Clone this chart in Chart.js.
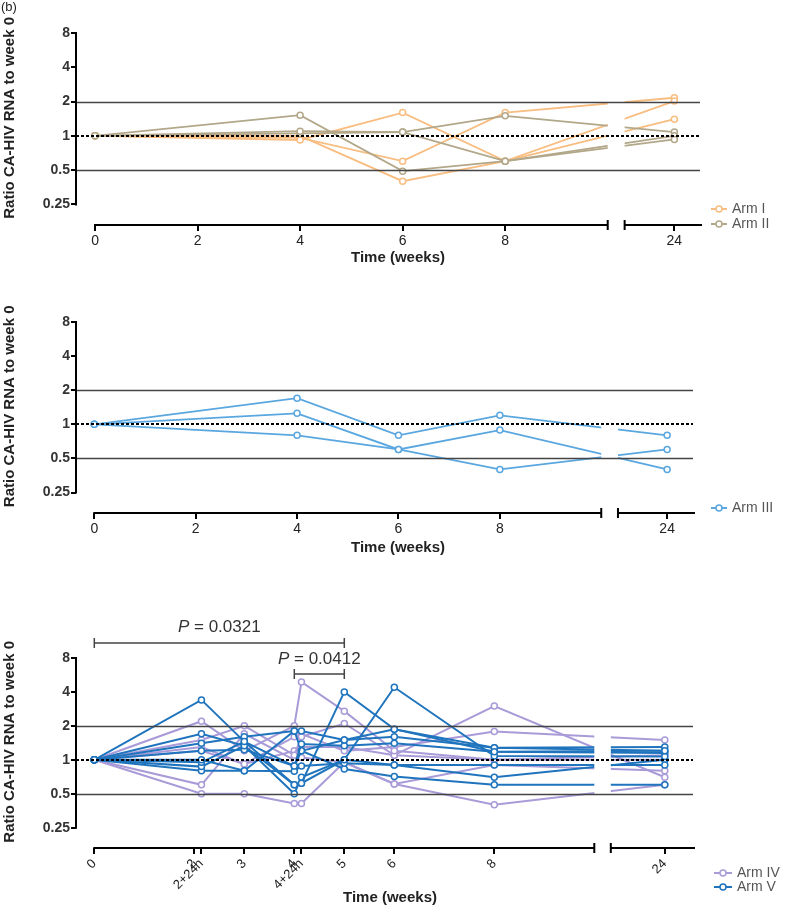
<!DOCTYPE html>
<html>
<head>
<meta charset="utf-8">
<script src="https://cdn.jsdelivr.net/npm/chart.js@4"></script>
<style>
  body { margin: 0; background: #fff; width: 800px; height: 909px; position: relative; overflow: hidden; }
  canvas { position: absolute; left: 0; }
</style>
</head>
<body>
<canvas id="c1" width="800" height="270" style="top:0"></canvas>
<canvas id="c2" width="800" height="290" style="top:270px"></canvas>
<canvas id="c3" width="800" height="349" style="top:560px"></canvas>
<script>
// sampling weeks and axis ticks
const weeksA = [0, 4, 6, 8, 24];
const ticksA = [0, 2, 4, 6, 8, 24];
const tickLabelsA = ['0', '2', '4', '6', '8', '24'];
const weeksB = [0, 2 + 1 / 7, 3, 4, 4 + 1 / 7, 5, 6, 8, 24];
const ticksB = [0, 2, 2 + 1 / 7, 3, 4, 4 + 1 / 7, 5, 6, 8, 24];
const tickLabelsB = ['0', '2', '2+24h', '3', '4', '4+24h', '5', '6', '8', '24'];
const yTicks = [0.25, 0.5, 1, 2, 4, 8];

// ratio CA-HIV RNA to week 0, one row per participant
const armI = [
  [1, 0.92, 1.6, 0.6, 2.02],
  [1, 0.96, 0.6, 1.6, 2.16],
  [1, 1.0, 0.4, 0.6, 1.4]
];
const armII = [
  [1, 1.52, 0.49, 0.6, 0.93],
  [1, 1.1, 1.08, 0.6, 1.0],
  [1, 1.05, 1.08, 1.5, 1.08]
];
const armIII = [
  [1, 1.7, 0.8, 1.2, 0.8],
  [1, 1.25, 0.6, 0.89, 0.4],
  [1, 0.8, 0.6, 0.4, 0.6]
];
const armIV = [
  [1, 2.2, 1.2, 2.0, 4.9, 2.7, 1.2, 1.0, 1.0],
  [1, 1.5, 2.0, 1.1, 1.6, 2.1, 1.1, 3.0, 0.7],
  [1, 1.3, 0.92, 1.6, 1.7, 1.2, 1.3, 1.78, 1.5],
  [1, 0.6, 1.7, 1.0, 1.05, 0.95, 0.61, 0.9, 0.8],
  [1, 0.5, 0.5, 0.41, 0.41, 0.95, 0.61, 0.4, 0.6],
  [1, 1.2, 0.92, 1.2, 1.3, 1.3, 1.1, 1.0, 1.1]
];
const armV = [
  [1, 3.4, 1.45, 0.6, 0.62, 4.0, 1.87, 1.18, 1.2],
  [1, 1.7, 1.33, 0.5, 0.7, 1.0, 4.4, 1.08, 1.07],
  [1, 1.4, 1.6, 1.8, 1.8, 1.5, 1.6, 1.28, 1.3],
  [1, 1.2, 1.23, 0.88, 1.38, 1.33, 1.4, 1.18, 1.15],
  [1, 1.0, 0.8, 0.79, 0.88, 0.93, 0.9, 0.9, 0.9],
  [1, 0.95, 1.45, 0.88, 1.2, 0.83, 0.71, 0.6, 0.6],
  [1, 0.87, 1.33, 0.6, 0.62, 1.0, 0.9, 0.7, 1.0],
  [1, 0.8, 0.8, 1.8, 1.2, 1.5, 1.87, 1.28, 1.2]
];
const pValues = ['0.0321', '0.0412'];
const pSpans = [[0, 5], [4, 5]];

const FONT = '"Liberation Sans", Arial, sans-serif';
Chart.defaults.font.family = FONT;

// weeks after the axis break (week 24) sit right after the gap
function axisPos(w, pos24) {
  return w > 10 ? pos24 : w;
}

function lines(rows, weeks, pos24, color, width) {
  return rows.map(r => ({
    data: r.map((v, i) => ({ x: axisPos(weeks[i], pos24), y: v })),
    borderColor: color,
    borderWidth: width,
    pointRadius: 3,
    pointHoverRadius: 3,
    pointBorderWidth: 1.5,
    pointBackgroundColor: '#fff',
    pointBorderColor: color
  }));
}

const decor = {
  id: 'decor',
  afterDatasetsDraw(chart, args, o) {
    const { ctx, chartArea: a, scales: { x, y } } = chart;
    ctx.save();
    // axis break: blank the lines crossing the gap
    const g0 = x.getPixelForValue(10), g1 = x.getPixelForValue(10.33);
    ctx.fillStyle = '#fff';
    ctx.fillRect(g0, a.top - 4, g1 - g0, a.bottom - a.top - 2);
    // reference lines
    ctx.strokeStyle = '#444';
    ctx.lineWidth = 1.5;
    [2, 0.5].forEach(v => {
      const py = Math.round(y.getPixelForValue(v)) + 0.5;
      ctx.beginPath(); ctx.moveTo(a.left, py); ctx.lineTo(a.right, py); ctx.stroke();
    });
    ctx.strokeStyle = '#000';
    ctx.lineWidth = 2;
    ctx.setLineDash([3, 2]);
    const p1 = Math.round(y.getPixelForValue(1));
    ctx.beginPath(); ctx.moveTo(a.left, p1); ctx.lineTo(a.right, p1); ctx.stroke();
    ctx.restore();
  },
  afterDraw(chart, args, o) {
    const { ctx, chartArea: a, scales: { x, y } } = chart;
    ctx.save();
    ctx.strokeStyle = '#000';
    ctx.lineWidth = 2;
    // y axis
    ctx.beginPath();
    ctx.moveTo(a.left, y.getPixelForValue(8) - 1);
    ctx.lineTo(a.left, y.getPixelForValue(0.25) + 1);
    ctx.stroke();
    // broken x axis
    const ax = a.bottom;
    const x0 = x.getPixelForValue(0), g0 = x.getPixelForValue(10), g1 = x.getPixelForValue(10.33);
    ctx.beginPath();
    ctx.moveTo(x0 - 1, ax); ctx.lineTo(g0, ax);
    ctx.moveTo(g1, ax); ctx.lineTo(a.right + 2, ax);
    ctx.moveTo(g0, ax - 5); ctx.lineTo(g0, ax + 5);
    ctx.moveTo(g1, ax - 5); ctx.lineTo(g1, ax + 5);
    ctx.stroke();

    // axis titles
    ctx.fillStyle = '#222';
    ctx.font = 'bold 15px ' + FONT;
    ctx.textAlign = 'center';
    ctx.textBaseline = 'middle';
    ctx.fillText('Time (weeks)', o.titleX, ax + o.titleDY);
    ctx.save();
    ctx.translate(10, y.getPixelForValue(1) - 18);
    ctx.rotate(-Math.PI / 2);
    ctx.fillText('Ratio CA-HIV RNA to week 0', 0, 0);
    ctx.restore();

    if (o.tag) {
      ctx.font = '13px ' + FONT;
      ctx.textAlign = 'left';
      ctx.fillText(o.tag, 1, 7);
    }

    // legend
    o.legend.forEach((it, i) => {
      const cy = o.legendY[i], lx = o.legendX;
      ctx.strokeStyle = it.color;
      ctx.lineWidth = 2;
      ctx.beginPath(); ctx.moveTo(lx, cy); ctx.lineTo(lx + o.mw, cy); ctx.stroke();
      ctx.fillStyle = '#fff';
      ctx.lineWidth = 1.5;
      ctx.beginPath(); ctx.arc(lx + o.mw / 2, cy, 3, 0, Math.PI * 2); ctx.fill(); ctx.stroke();
      ctx.fillStyle = '#555';
      ctx.font = '14px ' + FONT;
      ctx.textAlign = 'left';
      ctx.fillText(it.label, lx + o.mw + 5, cy);
    });

    // significance brackets
    (o.brackets || []).forEach(b => {
      const xa = x.getPixelForValue(b.from), xb = x.getPixelForValue(b.to);
      ctx.strokeStyle = '#444';
      ctx.lineWidth = 1.5;
      ctx.beginPath();
      ctx.moveTo(xa, b.y); ctx.lineTo(xb, b.y);
      ctx.moveTo(xa, b.y - 5); ctx.lineTo(xa, b.y + 5);
      ctx.moveTo(xb, b.y - 5); ctx.lineTo(xb, b.y + 5);
      ctx.stroke();
      ctx.fillStyle = '#333';
      const rest = ' = ' + b.label;
      ctx.font = 'italic 17px ' + FONT;
      const wP = ctx.measureText('P').width;
      ctx.font = '17px ' + FONT;
      const wR = ctx.measureText(rest).width;
      const sx = (xa + xb) / 2 - (wP + wR) / 2;
      ctx.textAlign = 'left';
      ctx.font = 'italic 17px ' + FONT;
      ctx.fillText('P', sx, b.ty);
      ctx.font = '17px ' + FONT;
      ctx.fillText(rest, sx + wP, b.ty);
    });
    ctx.restore();
  }
};

function makeChart(id, cfg) {
  return new Chart(document.getElementById(id), {
    type: 'line',
    data: { datasets: cfg.datasets },
    options: {
      responsive: false,
      animation: false,
      devicePixelRatio: 1,
      layout: { padding: { top: cfg.top, right: cfg.right, left: 0, bottom: 0 } },
      plugins: { legend: { display: false }, tooltip: { enabled: false }, decor: cfg.decor },
      scales: {
        x: {
          type: 'linear', min: cfg.xmin, max: cfg.xmax,
          afterBuildTicks: s => { s.ticks = cfg.ticks.map(w => ({ value: axisPos(w, cfg.pos24) })); },
          afterFit: s => { s.height = cfg.xh; },
          ticks: {
            autoSkip: false, callback: (v, i) => cfg.labels[i],
            font: { size: cfg.tickSize }, color: '#222', padding: 2,
            minRotation: cfg.rot, maxRotation: cfg.rot
          },
          grid: { drawOnChartArea: false, color: '#000', lineWidth: 2, tickLength: 6 },
          border: { display: false }
        },
        y: {
          type: 'logarithmic', min: 0.165, max: 8,
          afterBuildTicks: s => { s.ticks = yTicks.map(v => ({ value: v })); },
          afterFit: s => { s.width = 76; },
          ticks: { callback: v => String(v), font: { size: 14, weight: 'bold' }, color: '#333', padding: 1 },
          grid: { drawOnChartArea: false, color: '#000', lineWidth: 2, tickLength: 5 },
          border: { display: false }
        }
      }
    },
    plugins: [decor]
  });
}

const cI = '#F8BD80', cII = '#B3A78A', cIII = '#5AA7E0', cIV = '#A99BD8', cV = '#1F74BD';

makeChart('c1', {
  datasets: [...lines(armII, weeksA, 11.3, cII, 1.8), ...lines(armI, weeksA, 11.3, cI, 1.8)],
  top: 33, right: 100, xh: 45, xmin: -0.371, xmax: 11.8, pos24: 11.3,
  ticks: ticksA, labels: tickLabelsA, tickSize: 14, rot: 0,
  decor: {
    titleX: 398, titleDY: 33, tag: '(b)',
    legend: [{ label: 'Arm I', color: cI }, { label: 'Arm II', color: cII }],
    legendX: 711, legendY: [209, 224], mw: 16
  }
});

makeChart('c2', {
  datasets: lines(armIII, weeksA, 11.3, cIII, 1.8),
  top: 52, right: 107, xh: 47, xmin: -0.361, xmax: 11.81, pos24: 11.3,
  ticks: ticksA, labels: tickLabelsA, tickSize: 14, rot: 0,
  decor: {
    titleX: 398, titleDY: 35,
    legend: [{ label: 'Arm III', color: cIII }],
    legendX: 711, legendY: [238], mw: 16
  }
});

makeChart('c3', {
  datasets: [...lines(armV, weeksB, 11.41, cV, 2), ...lines(armIV, weeksB, 11.41, cIV, 2)],
  top: 98, right: 107, xh: 61, xmin: -0.366, xmax: 11.974, pos24: 11.41,
  ticks: ticksB, labels: tickLabelsB, tickSize: 13, rot: 45,
  decor: {
    titleX: 390, titleDY: 50,
    legend: [{ label: 'Arm IV', color: cIV }, { label: 'Arm V', color: cV }],
    legendX: 714, legendY: [313, 327], mw: 18,
    brackets: [
      { from: pSpans[0][0], to: pSpans[0][1], y: 83, ty: 67, label: pValues[0] },
      { from: pSpans[1][0], to: pSpans[1][1], y: 114, ty: 99, label: pValues[1] }
    ]
  }
});
</script>
</body>
</html>
